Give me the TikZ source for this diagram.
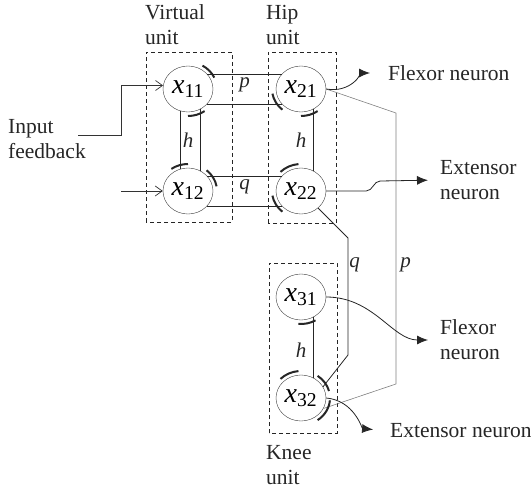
\documentclass[tikz,border=0pt]{standalone}
\usepackage{fontspec}
\setmainfont{Liberation Serif}
\usetikzlibrary{arrows.meta,positioning,shapes.geometric}

\begin{document}
\begin{tikzpicture}[x=1pt, y=1pt,
      neurone/.style={draw=black!75, ellipse, minimum width=50pt, minimum height=46pt,
                      inner sep=0pt, font=\fontsize{28}{30}\selectfont},
      cadre/.style={draw=black!85, line width=0.8pt, dash pattern=on 4pt off 3pt},
      lien/.style={draw=black!85, line width=0.8pt},
      frein/.style={draw=black!85, line width=2pt},
      entree/.style={-{Straight Barb[length=7pt,width=10pt]}, line width=0.7pt, color=black!80},
      sortie/.style={-{Latex[length=11pt,width=9pt]}, line width=0.8pt, color=black!85},
      texte/.style={anchor=west, inner sep=0pt, align=left, text=black!85,
                    font=\fontsize{21.5}{25}\selectfont},
      etiq/.style={inner sep=1pt, text=black!85, font=\fontsize{21}{24}\selectfont\itshape}]
    \useasboundingbox (0,0) rectangle (531,491);

    % cadres des unites
    \draw[cadre] (146,269) rectangle (232,439);
    \draw[cadre] (268,268) rectangle (336,439);
    \draw[cadre] (269,58)  rectangle (337,228);

    \node[texte] (vu) at (145,466) {Virtual\\unit};
    \node[texte] (hu) at (266,466) {Hip\\unit};
    \node[texte] (ku) at (266,26)  {Knee\\unit};

    % neurones
    \node[neurone] (x11) at (188,402) {\textit{x}\textsubscript{11}};
    \node[neurone] (x12) at (188,300) {\textit{x}\textsubscript{12}};
    \node[neurone] (x21) at (301,402) {\textit{x}\textsubscript{21}};
    \node[neurone] (x22) at (301,300) {\textit{x}\textsubscript{22}};
    \node[neurone] (x31) at (301,194) {\textit{x}\textsubscript{31}};
    \node[neurone] (x32) at (301,93)  {\textit{x}\textsubscript{32}};

    \node[texte] (inp)   at (8,352)   {Input\\feedback};
    \node[texte] (flexh) at (388,418) {Flexor neuron};
    \node[texte] (exth)  at (440,311) {Extensor\\neuron};
    \node[texte] (flexk) at (440,151) {Flexor\\neuron};
    \node[texte] (extk)  at (390,60)  {Extensor neuron};

    % entrees
    \coordinate (in1) at (78,356);
    \coordinate (in2) at (121,300);
    \draw[entree] (in1) -- ++(43,0) |- (x11.172);
    \draw[entree] (in2) -- (x12.west);

    % liaisons mutuelles
    \draw[lien] (x21.142) -- (x11.38);
    \draw[lien] (x11.-38) -- (x21.-142);
    \draw[lien] (x22.142) -- (x12.38);
    \draw[lien] (x12.-38) -- (x22.-142);
    \path (x11) -- node[etiq, yshift=4pt]{p} (x21);
    \path (x12) -- node[etiq, yshift=4pt]{q} (x22);

    \draw[lien] (x11.252) -- (x12.108);
    \draw[lien] (x12.58)  -- (x11.-58);
    \draw[lien] (x22.58)  -- (x21.-58);
    \draw[lien] (x32.58)  -- (x31.-58);
    \path (x11) -- node[etiq]{h} (x12);
    \path (x21) -- node[etiq]{h} (x22);
    \path (x31) -- node[etiq, yshift=-3pt]{h} (x32);

    \draw[lien] (x22.-45) -- (348,253) -- node[etiq, right, pos=.23]{q} (348,136) -- (x32.27);
    \draw[lien, draw=black!50, line width=0.6pt] (x21.east) -- (396,378)
          -- node[etiq, right, xshift=3pt, pos=.56]{p} (396,107) -- (x32.-25);

    % synapses inhibitrices
    \draw[frein] (x11.center) ++(25:29 and 27)  arc[start angle=25,  end angle=60,  x radius=29, y radius=27];
    \draw[frein] (x11.center) ++(-90:29 and 27) arc[start angle=-90, end angle=-55, x radius=29, y radius=27];
    \draw[frein] (x12.center) ++(90:29 and 27)  arc[start angle=90,  end angle=125, x radius=29, y radius=27];
    \draw[frein] (x12.center) ++(10:29 and 27)  arc[start angle=10,  end angle=50,  x radius=29, y radius=27];
    \draw[frein] (x21.center) ++(190:29 and 27) arc[start angle=190, end angle=230, x radius=29, y radius=27];
    \draw[frein] (x21.center) ++(-90:29 and 27) arc[start angle=-90, end angle=-55, x radius=29, y radius=27];
    \draw[frein] (x22.center) ++(95:29 and 27)  arc[start angle=95,  end angle=135, x radius=29, y radius=27];
    \draw[frein] (x22.center) ++(190:29 and 27) arc[start angle=190, end angle=230, x radius=29, y radius=27];
    \draw[frein] (x31.center) ++(-95:29 and 27) arc[start angle=-95, end angle=-60, x radius=29, y radius=27];
    \draw[frein] (x32.center) ++(95:29 and 27)  arc[start angle=95,  end angle=135, x radius=29, y radius=27];
    \draw[frein] (x32.center) ++(15:29 and 27)  arc[start angle=15,  end angle=55,  x radius=29, y radius=27];
    \draw[frein] (x32.center) ++(-55:29 and 27) arc[start angle=-55, end angle=-5,  x radius=29, y radius=27];

    % sorties
    \draw[sortie, shorten >=18pt] (x21.east) to[out=-10, in=180] (flexh.west);
    \draw[sortie, shorten >=12pt] (x22.east) -- ++(40,0) to[out=0, in=180] ++(14,10) -- (exth.west);
    \draw[sortie, shorten >=12pt] (x31.east) to[out=0, in=180] (flexk.west);
    \draw[sortie, shorten >=17pt] (x32.east) to[out=-5, in=175] (extk.west);
  \end{tikzpicture}
\end{document}
